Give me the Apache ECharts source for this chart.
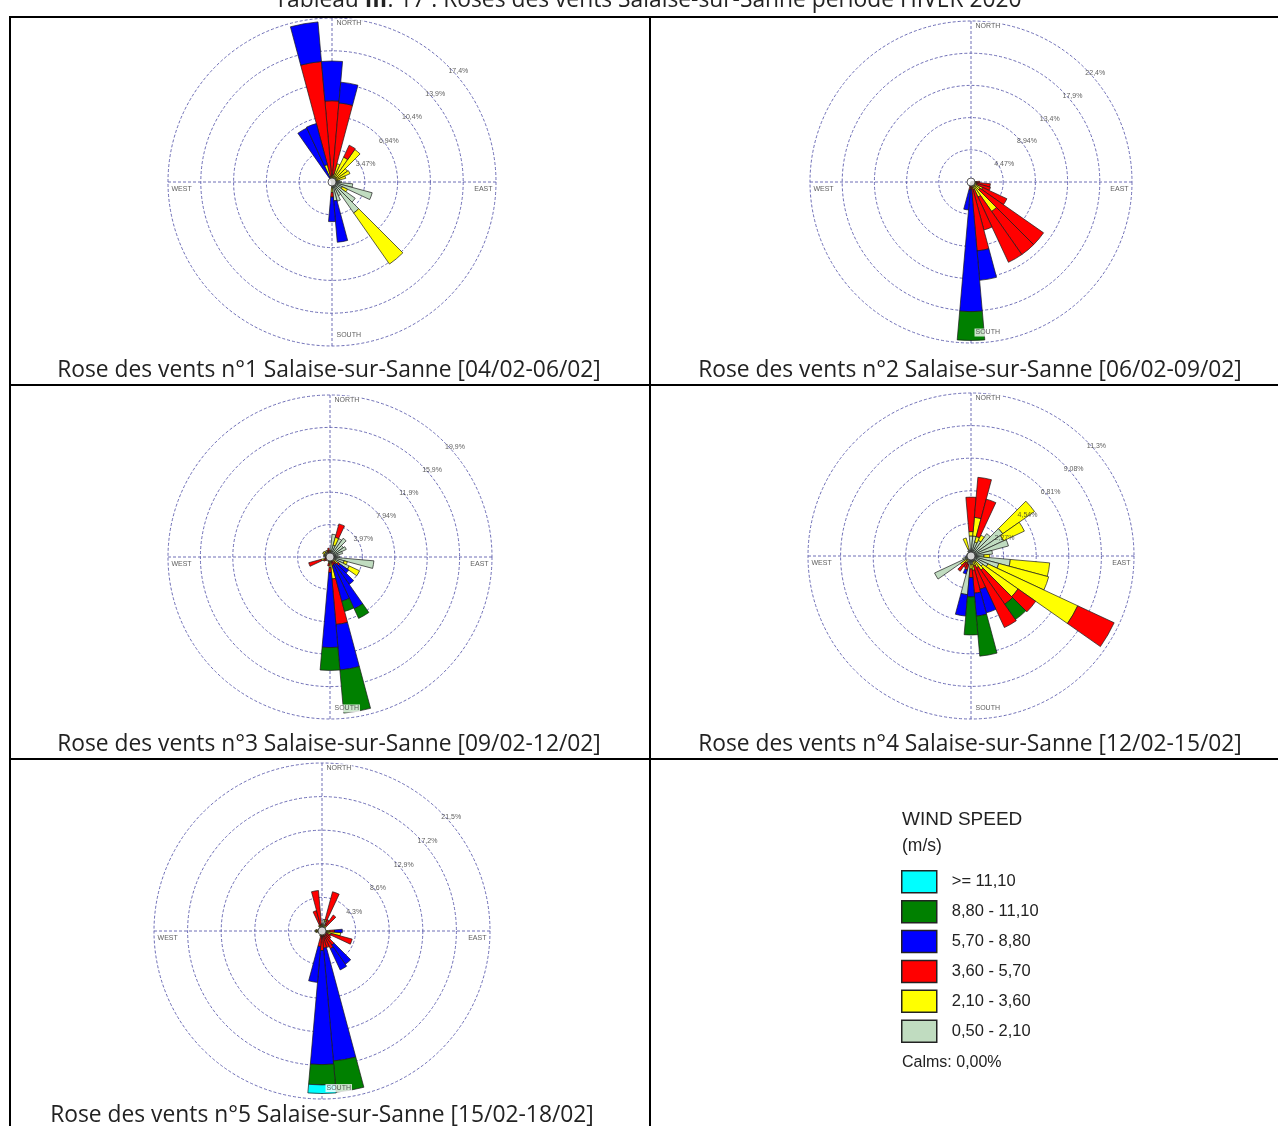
<!DOCTYPE html>
<html><head><meta charset="utf-8">
<script src="https://cdn.jsdelivr.net/npm/echarts@6/dist/echarts.min.js"></script>
<style>html,body{margin:0;padding:0;background:#fff}#c{width:1278px;height:1126px}</style>
</head><body><div id="c"></div>
<script>
// ---------- categories / classes ----------
const DIRECTIONS = [0,10,20,30,40,50,60,70,80,90,100,110,120,130,140,150,160,170,180,190,200,210,220,230,240,250,260,270,280,290,300,310,320,330,340,350];
const CLASS_NAMES = ['0,50 - 2,10','2,10 - 3,60','3,60 - 5,70','5,70 - 8,80','8,80 - 11,10','>= 11,10'];
const CLASS_COLORS = ['#c0dcc0','#ffff00','#ff0000','#0000ff','#008000','#00ffff'];
const LEGEND_ORDER = ['>= 11,10','8,80 - 11,10','5,70 - 8,80','3,60 - 5,70','2,10 - 3,60','0,50 - 2,10'];
const CARDINALS = ['NORTH','EAST','SOUTH','WEST'];
const CARDINAL_ANGLES = [0,90,180,270];

// ---------- rose 1 ----------
const R1_STEP = 3.47;
const R1_TICKS = ['3,47%','6,94%','10,4%','13,9%','17,4%'];
const r1_pg     = [0.3,0.3,0.4,0.5,0.6,0.5,0.5,0.5,0.8, 1.0,2.2,4.4,1.2,3.0,4.0,1.6,2.1,2.0, 0.6,0.4,0,0,0,0,0,0,0, 0,0,0,0,0,0.2,0.2,0.3,0.2];
const r1_yellow = [0.4,0.5,1.6,2.4,3.6,1.5,1.6,1.0,0, 0,0,0,0.6,0,6.6,0,0,0, 0.5,0,0,0,0,0,0,0,0, 0,0,0,0,0,0,0.2,1.6,0.4];
const r1_red    = [7.9,7.6,0,1.4,0,0,0,0,0, 0,0,0,0,0,0,0,0,0, 0.5,0,0,0,0,0,0,0,0, 0,0,0,0,0,0,0,0,12.2];
const r1_blue   = [4.2,2.2,0,0,0,0,0,0,0, 0,0,0,0,0,0,0,0,4.4, 2.6,0,0,0,0,0,0,0,0, 0,0,0,0,0,0,5.9,4.5,4.2];
const r1_green  = [0,0,0,0,0,0,0,0,0, 0,0,0,0,0,0,0,0,0, 0,0,0,0,0,0,0,0,0, 0,0,0,0,0,0,0,0,0];
const r1_cyan   = [0,0,0,0,0,0,0,0,0, 0,0,0,0,0,0,0,0,0, 0,0,0,0,0,0,0,0,0, 0,0,0,0,0,0,0,0,0];

// ---------- rose 2 ----------
const R2_STEP = 4.47;
const R2_TICKS = ['4,47%','8,94%','13,4%','17,9%','22,4%'];
const r2_pg     = [0,0,0,0,0,0,0,0,0.2, 0.3,0.3,0.3,0.3,0.3,0.4,0.3,0.3,0.3, 0.2,0.3,0.2,0,0,0,0,0,0, 0,0,0,0,0,0,0,0,0];
const r2_yellow = [0,0,0,0,0,0,0,0,0, 0.4,0.5,0.6,1.5,1.2,4.6,2.0,0.8,0.5, 0.3,0.3,0.4,0,0,0,0,0,0, 0,0,0,0,0,0,0,0,0];
const r2_red    = [0,0,0,0,0,0,0,0,0.3, 0.5,1.9,1.9,3.7,10.8,7.3,10.0,5.8,8.8, 0.5,0.5,0,0,0,0,0,0,0, 0,0,0,0,0,0,0,0,0];
const r2_blue   = [0,0,0,0,0,0,0,0,0, 0,0,0,0,0,0,0,0,4.1, 17.0,2.8,0,0,0,0,0,0,0, 0,0,0,0,0,0,0,0,0];
const r2_green  = [0,0,0,0,0,0,0,0,0, 0,0,0,0,0,0,0,0,0, 4.0,0,0,0,0,0,0,0,0, 0,0,0,0,0,0,0,0,0];
const r2_cyan   = [0,0,0,0,0,0,0,0,0, 0,0,0,0,0,0,0,0,0, 0,0,0,0,0,0,0,0,0, 0,0,0,0,0,0,0,0,0];

// ---------- rose 3 ----------
const R3_STEP = 3.97;
const R3_TICKS = ['3,97%','7,94%','11,9%','15,9%','19,9%'];
const r3_pg     = [0.6,2.8,1.5,2.5,2.8,2.0,2.2,1.6,1.0, 1.2,5.4,1.8,2.6,0.6,0.4,0.3,0.3,0.5, 0.5,0.5,0.6,0.4,0.5,0.4,0.3,0.6,0.3, 0.6,0.8,0.6,0.7,0.8,0.9,0.7,0.6,0.8];
const r3_yellow = [0.2,0,1.0,0,0,0,0,0,0, 0,0,0.4,1.4,0.6,0.4,0.3,0.3,2.2, 0.8,0.3,0,0,0,0,0.2,0.5,0, 0,0,0.2,0.3,0.2,0,0.2,0,0];
const r3_red    = [0,0,1.7,0,0,0,0,0,0, 0,0,0,0,0.3,0.3,0.4,0.5,5.6, 0.6,0.3,0,0,0,0.3,0.4,1.6,0.3, 0,0,0,0,0,0,0,0.3,0.3];
const r3_blue   = [0,0,0,0,0,0,0,0,0, 0,0,0,0,1.3,3.0,6.0,4.5,5.6, 9.2,0,0,0,0,0,0,0,0, 0,0,0,0,0,0,0,0,0];
const r3_green  = [0,0,0,0,0,0,0,0,0, 0,0,0,0,0,0,1.3,1.3,5.3, 2.8,0,0,0,0,0,0,0,0, 0,0,0,0,0,0,0,0,0];
const r3_cyan   = [0,0,0,0,0,0,0,0,0, 0,0,0,0,0,0,0,0,0, 0,0,0,0,0,0,0,0,0, 0,0,0,0,0,0,0,0,0];

// ---------- rose 4 ----------
const R4_STEP = 2.27;
const R4_TICKS = ['2,27%','4,54%','6,81%','9,08%','11,3%'];
const r4_pg     = [1.4,1.4,1.0,1.2,1.9,2.7,2.5,2.7,1.5, 0.9,2.75,2.0,1.3,1.0,0.5,0.4,0.4,0.6, 0.6,2.7,0.6,0.5,0,0.4,2.8,0.6,0.4, 0.3,0.3,0.3,0.3,0.3,0.3,0.4,0.5,0.4];
const r4_yellow = [0.3,1.3,0.4,0.4,0,2.7,1.6,0,0, 0.4,2.75,3.6,6.9,3.0,0.7,0.5,0.3,0.4, 0.3,0,0,0,0.6,0.5,0,0,0, 0,0,0,0,0,0,0,0.8,0];
const r4_red    = [2.4,2.8,2.7,0,0,0,0,0,0, 0,0,0,2.8,1.5,2.9,4.6,1.7,1.6, 0.6,0,0.4,0.4,0.7,0,0,0,0, 0,0,0,0,0,0,0,0,0];
const r4_blue   = [0,0,0,0,0,0,0,0,0, 0,0,0,0,0,0,0,1.7,1.6, 1.35,1.5,0.3,0,0,0,0,0,0, 0,0,0,0,0,0,0,0,0];
const r4_green  = [0,0,0,0,0,0,0,0,0, 0,0,0,0,0,1.3,0,0,2.8, 2.65,0,0,0,0,0,0,0,0, 0,0,0,0,0,0,0,0,0];
const r4_cyan   = [0,0,0,0,0,0,0,0,0, 0,0,0,0,0,0,0,0,0, 0,0,0,0,0,0,0,0,0, 0,0,0,0,0,0,0,0,0];

// ---------- rose 5 ----------
const R5_STEP = 4.3;
const R5_TICKS = ['4,3%','8,6%','12,9%','17,2%','21,5%'];
const r5_pg     = [0.6,1.5,1.3,0.6,0.5,0.5,0.5,0.5,0.5, 0.6,0.6,0.6,0.4,0.4,0.4,0.4,0.3,0.3, 0.3,0.3,0.4,0.4,0.4,0.4,0.4,0.4,0.5, 0.5,0.5,0.4,0.4,0.4,0.5,0.5,0.4,0.5];
const r5_yellow = [0.3,0,0.2,0.3,0.3,0,0,0,0, 0.4,1.8,0.6,0,0,0.3,0.3,0.3,0.4, 0.4,0.3,0.3,0,0,0,0,0,0.3, 0.4,0.3,0,0,0,0,0.3,0.3,0.3];
const r5_red    = [0,0,3.7,0.7,1.7,0,0,0,0, 0.6,0,2.8,0.8,1.0,1.5,1.8,1.6,1.5, 1.8,1.4,0,0,0,0,0,0,0, 0,0,0,0,0,0,0,2.0,4.4];
const r5_blue   = [0,0,0,0,0,0,0,0,0, 1.0,0,0,0,0,3.0,3.0,0,14.5, 14.6,4.6,0,0,0,0,0,0,0, 0,0,0,0,0,0,0,0,0];
const r5_green  = [0,0,0,0,0,0,0,0,0, 0,0,0,0,0,0,0,0,4.0, 2.6,0,0,0,0,0,0,0,0, 0,0,0,0,0,0,0,0,0];
const r5_cyan   = [0,0,0,0,0,0,0,0,0, 0,0,0,0,0,0,0,0,0, 1.1,0,0,0,0,0,0,0,0, 0,0,0,0,0,0,0,0,0];

// ---------- texts ----------
const TITLE_PARTS = ['Tableau ', 'III', '. 17 : Roses des vents Salaise-sur-Sanne période HIVER 2020'];
const CAPTIONS = [
  'Rose des vents n°1 Salaise-sur-Sanne [04/02-06/02]',
  'Rose des vents n°2 Salaise-sur-Sanne [06/02-09/02]',
  'Rose des vents n°3 Salaise-sur-Sanne [09/02-12/02]',
  'Rose des vents n°4 Salaise-sur-Sanne [12/02-15/02]',
  'Rose des vents n°5 Salaise-sur-Sanne [15/02-18/02]'
];
const LEGEND_TITLE = ['WIND SPEED', '(m/s)'];
const CALMS_TEXT = 'Calms: 0,00%';

// ---------- assembly ----------
const ROSES = [
  {step:R1_STEP, ticks:R1_TICKS, classes:[r1_pg,r1_yellow,r1_red,r1_blue,r1_green,r1_cyan]},
  {step:R2_STEP, ticks:R2_TICKS, classes:[r2_pg,r2_yellow,r2_red,r2_blue,r2_green,r2_cyan]},
  {step:R3_STEP, ticks:R3_TICKS, classes:[r3_pg,r3_yellow,r3_red,r3_blue,r3_green,r3_cyan]},
  {step:R4_STEP, ticks:R4_TICKS, classes:[r4_pg,r4_yellow,r4_red,r4_blue,r4_green,r4_cyan]},
  {step:R5_STEP, ticks:R5_TICKS, classes:[r5_pg,r5_yellow,r5_red,r5_blue,r5_green,r5_cyan]}
];
const LAYOUT = [
  {cx:332, cy:182, r:164, capX:329, capY:371},
  {cx:971, cy:182, r:161, capX:970, capY:371},
  {cx:330, cy:557, r:162, capX:329, capY:745},
  {cx:971, cy:556, r:163, capX:970, capY:745},
  {cx:322, cy:931, r:168, capX:322, capY:1116}
];
const GRID_LINE = {color:'#5e5eae', type:[3,2], width:0.9};
const SMALL_FONT = {fontSize:7, fontFamily:'Liberation Sans, Arial, sans-serif', color:'#333'};

const polar = [], angleAxis = [], radiusAxis = [], series = [];
const hidden = {axisLine:{show:false}, axisTick:{show:false}, axisLabel:{show:false}};

ROSES.forEach((rose, k) => {
  const L = LAYOUT[k];
  const max = Number((rose.step * 5).toFixed(4));
  const pA = polar.length;
  polar.push({center:[L.cx, L.cy], radius:L.r});
  angleAxis.push(Object.assign({polarIndex:pA, type:'category', data:DIRECTIONS, startAngle:95, clockwise:true, boundaryGap:true, splitLine:{show:false}}, hidden));
  radiusAxis.push(Object.assign({polarIndex:pA, type:'value', min:0, max:max, interval:rose.step, splitLine:{show:true, lineStyle:GRID_LINE}}, hidden));
  const pB = polar.length;
  polar.push({center:[L.cx, L.cy], radius:L.r});
  angleAxis.push(Object.assign({polarIndex:pB, type:'value', min:0, max:360, interval:90, startAngle:90, clockwise:true, splitLine:{show:true, lineStyle:GRID_LINE}}, hidden));
  radiusAxis.push(Object.assign({polarIndex:pB, type:'value', min:0, max:max, splitLine:{show:false}}, hidden));

  rose.classes.forEach((vals, c) => {
    series.push({
      type:'bar', name:CLASS_NAMES[c], coordinateSystem:'polar', polarIndex:pA, stack:'rose'+k,
      data: vals.map(v => v === 0 ? '-' : v),
      barCategoryGap:'0%', silent:true,
      itemStyle:{color:CLASS_COLORS[c], borderColor:'#1a1a1a', borderWidth:0.7}
    });
  });
  // ring labels
  series.push({
    type:'scatter', coordinateSystem:'polar', polarIndex:pB, symbolSize:1, silent:true, z:8,
    itemStyle:{color:'rgba(0,0,0,0)'},
    data: rose.ticks.map((t, i) => ({name:t, value:[rose.step*(i+1), 45]})),
    label: Object.assign({show:true, position:'right', distance:0, offset:[0,5], formatter:p => p.name}, SMALL_FONT)
  });
  // cardinal labels
  const cardLabel = [
    {position:'right', distance:3},
    {position:'bottom', align:'right', distance:2},
    {position:'right', distance:3},
    {position:'bottom', align:'left', distance:2}
  ];
  const cardR = [0.97, 0.985, 0.935, 0.985];
  series.push({
    type:'scatter', coordinateSystem:'polar', polarIndex:pB, symbolSize:1, silent:true, z:9,
    itemStyle:{color:'rgba(0,0,0,0)'},
    data: CARDINALS.map((n, i) => ({name:n, value:[max*cardR[i], CARDINAL_ANGLES[i]], label:cardLabel[i]})),
    label: Object.assign({show:true, formatter:p => p.name, backgroundColor:'#fff', padding:[1,1,0,1]}, SMALL_FONT)
  });
  // centre calm circle
  series.push({
    type:'scatter', coordinateSystem:'polar', polarIndex:pB, symbol:'circle', symbolSize:8, silent:true, z:10,
    itemStyle:{color:'#fff', borderColor:'#333', borderWidth:1},
    data:[[0,0]]
  });
});

const captionFont = 'Open Sans, Noto Sans, sans-serif';
const graphic = [];
const line = (x1,y1,x2,y2) => ({type:'line', silent:true, z:100, shape:{x1,y1,x2,y2}, style:{stroke:'#000', lineWidth:2}});
graphic.push(line(9,17,1278,17), line(10,16,10,1126), line(650,16,650,1126), line(9,385,1278,385), line(9,759,1278,759));
graphic.push({type:'text', silent:true, x:648, y:1, style:{
  text:'{a|'+TITLE_PARTS[0]+'}{b|'+TITLE_PARTS[1]+'}{a|'+TITLE_PARTS[2]+'}',
  align:'center', verticalAlign:'middle',
  rich:{a:{fontSize:22.8, fontFamily:captionFont, fill:'#222'}, b:{fontSize:22.8, fontFamily:captionFont, fontWeight:'bold', fill:'#222'}}
}});
CAPTIONS.forEach((t, k) => graphic.push({type:'text', silent:true, x:LAYOUT[k].capX, y:LAYOUT[k].capY, style:{
  text:t, align:'center', verticalAlign:'middle', fontSize:22.8, fontFamily:captionFont, fill:'#222'}}));
graphic.push({type:'text', silent:true, x:902, y:820, style:{text:LEGEND_TITLE[0], verticalAlign:'middle', fontSize:19, fontFamily:'Liberation Sans, Arial, sans-serif', fill:'#222'}});
graphic.push({type:'text', silent:true, x:902, y:846, style:{text:LEGEND_TITLE[1], verticalAlign:'middle', fontSize:17.5, fontFamily:'Liberation Sans, Arial, sans-serif', fill:'#222'}});
graphic.push({type:'text', silent:true, x:902, y:1063, style:{text:CALMS_TEXT, verticalAlign:'middle', fontSize:16, fontFamily:'Liberation Sans, Arial, sans-serif', fill:'#222'}});

const option = {
  animation:false,
  backgroundColor:'#fff',
  polar, angleAxis, radiusAxis, series, graphic,
  legend:{
    orient:'vertical', left:901, top:870, padding:0, itemWidth:35, itemHeight:22, itemGap:6.4, icon:'rect',
    selectedMode:false, data:LEGEND_ORDER,
    itemStyle:{borderColor:'#222', borderWidth:1.5},
    textStyle:{fontSize:16.5, color:'#222', fontFamily:'Liberation Sans, Arial, sans-serif', padding:[0,0,0,10]}
  }
};
const chart = echarts.init(document.getElementById('c'), null, {renderer:'canvas'});
chart.setOption(option);
</script></body></html>
